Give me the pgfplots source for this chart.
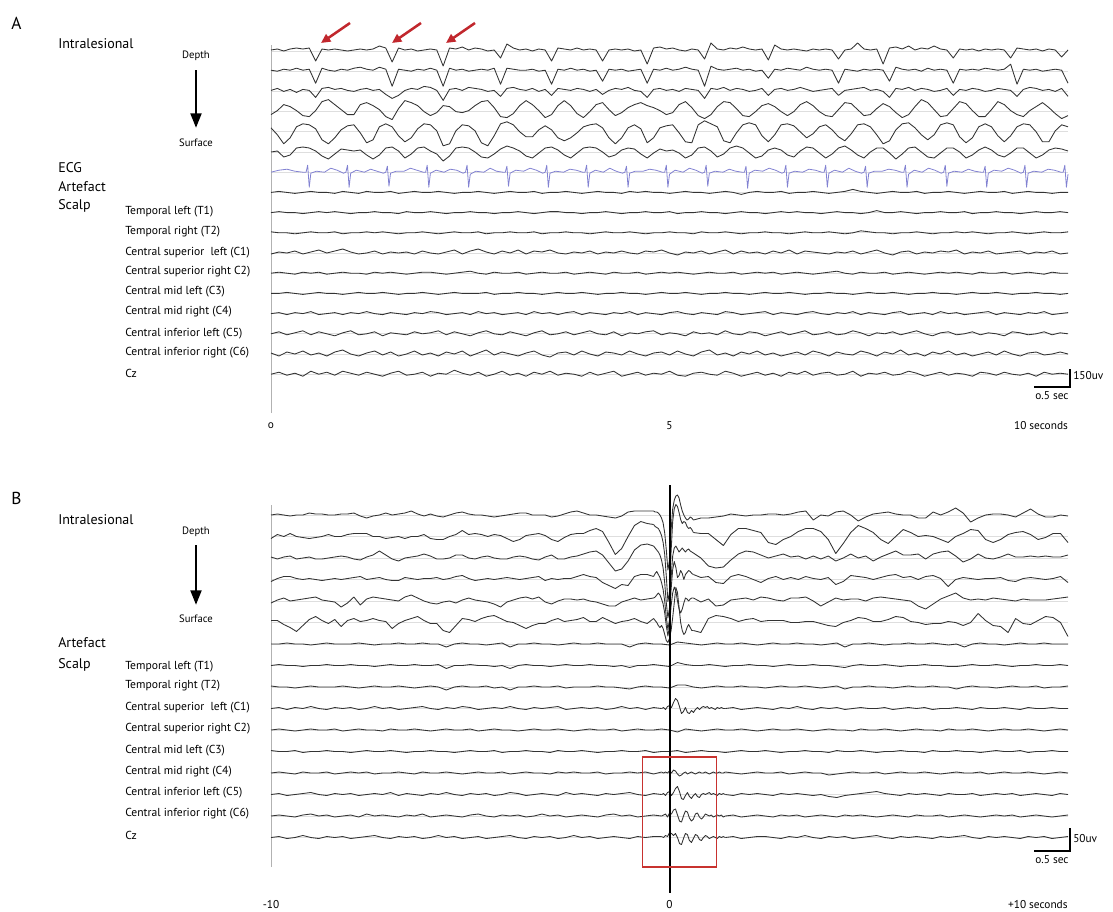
\documentclass[border=0pt]{standalone}
\usepackage{pgfplots}
\pgfplotsset{compat=1.18}
\usepackage{fontspec}
\setmainfont{PT Sans}
\usetikzlibrary{arrows.meta}
\definecolor{arrowred}{HTML}{C1272D}
\definecolor{boxred}{HTML}{C8322F}
\definecolor{ecgblue}{HTML}{8282D2}
\newcommand\fpanel{\fontsize{13}{15}\selectfont}
\newcommand\fgroup{\fontsize{10.5}{12}\selectfont}
\newcommand\fchan{\fontsize{8.7}{10}\selectfont}
\newcommand\fsmall{\fontsize{8}{9.5}\selectfont}
\newcommand\ftick{\fontsize{8.5}{10}\selectfont}

% one trace: style, first time, time step, baseline (px), values (px, up positive)
\newcommand{\eeg}[5]{%
  \gdef\eegacc{}%
  \foreach \v [count=\i from 0] in {#5}{%
    \pgfmathsetmacro\ex{#2+\i*#3}%
    \pgfmathsetmacro\ey{\v-#4}%
    \xdef\eegacc{\eegacc(\ex,\ey)}%
  }%
  \edef\eegtmp{\noexpand\addplot[#1] coordinates {\eegacc};}%
  \eegtmp
}
% trace given as time/value pairs
\newcommand{\eegxy}[3]{%
  \gdef\eegacc{}%
  \foreach \et/\v in {#3}{%
    \pgfmathsetmacro\ey{\v-#2}%
    \xdef\eegacc{\eegacc(\et,\ey)}%
  }%
  \edef\eegtmp{\noexpand\addplot[#1] coordinates {\eegacc};}%
  \eegtmp
}

\pgfplotsset{
  trace/.style={draw=black!80, line width=0.65pt, line join=round},
  ecg/.style={draw=ecgblue, line width=0.6pt, line join=round},
  eeg/.style={scale only axis, width=597.75pt, clip=false,
    axis lines*=left, x axis line style={draw=none},
    y axis line style={draw=black!30, line width=0.75pt},
    xtick=\empty, yticklabel={\relax}, ytick style={draw=none},
    ymajorgrids, grid style={draw=black!13, line width=0.75pt},
    no markers, anchor=south west},
}

\begin{document}
\begin{tikzpicture}

%%%%%%%%%%%%%%%% PANEL A %%%%%%%%%%%%%%%%
\begin{axis}[eeg, height=276pt, at={(203.25pt,-309.75pt)},
  xmin=0, xmax=10, ymin=-413, ymax=-45,
  ytick={-51,-71.2,-91.4,-111.6,-131.8,-152,-172.2,-192.4,-212.6,-232.8,-253,-273.2,-293.4,-313.6,-333.8,-354,-374.2}]

\eeg{trace}{0}{0.08}{51}{
1,2,0,2,3,2,3,-10,2,1,
2,1,0,1,2,1,2,5,3,-11,
3,1,2,0,1,2,1,-15,3,2,
4,1,3,2,0,1,-7,7,3,1,
2,0,2,1,-10,3,2,1,3,1,
2,1,-10,1,2,1,2,0,1,-13,
3,4,2,3,1,0,2,1,-8,8,
2,1,3,2,4,2,1,2,-9,6,
2,1,2,1,0,2,1,2,1,-8,
1,2,8,2,1,2,-13,3,4,2,
5,1,3,2,5,2,1,-7,2,1,
2,0,2,1,2,1,-7,3,2,1,
2,0,2,1,-6,1}

\eeg{trace}{0}{0.08}{71.2}{
1,0,2,1,3,1,2,-12,3,1,
0,2,1,3,4,2,1,4,2,-15,
2,1,0,2,1,3,1,-15,3,1,
2,0,1,2,1,3,-13,3,2,1,
1,2,0,1,-13,2,1,3,1,2,
0,1,-10,2,1,2,0,1,2,-12,
2,1,3,1,2,4,2,1,-15,5,
2,1,2,3,1,2,0,1,-7,2,
1,3,2,1,4,2,1,2,1,-12,
2,1,0,2,1,2,1,-10,4,2,
1,2,0,3,1,2,1,-12,2,1,
2,1,3,2,1,2,7,-13,2,1,
2,0,1,2,1,-12}

\eeg{trace}{0}{0.08}{91.4}{
1,3,0,2,-1,2,1,-6,3,4,
2,3,1,0,2,3,1,2,-3,-7,
-4,1,3,2,5,4,1,-9,2,3,
1,4,3,2,0,1,-5,3,4,2,
1,3,0,2,-4,3,2,1,3,2,
0,2,-3,1,3,2,4,1,0,-6,
2,3,1,2,0,3,2,1,-7,3,
2,4,1,3,2,0,1,3,-4,2,
3,1,2,4,2,0,1,2,3,-4,
1,2,3,4,1,2,0,-6,3,2,
4,1,3,2,0,1,3,-4,2,1,
3,2,0,1,3,2,1,-5,2,4,
3,1,2,0,3,-5}

\eeg{trace}{0}{0.08}{111.6}{
-3,1,7,5,1,-4,-5,1,10,12,
7,2,-3,-3,7,9,6,2,-5,-8,
3,11,9,6,0,-4,-1,6,5,0,
-1,1,6,10,11,4,-5,-6,-2,6,
11,7,1,-6,-3,6,11,6,-2,-6,
0,7,9,2,-4,-1,4,7,9,6,
4,1,-3,-1,7,10,4,-4,-7,-3,
5,10,9,3,-4,-5,0,6,8,5,
0,-4,0,7,10,6,0,-4,-5,2,
9,8,2,-4,-3,3,8,5,-1,-6,
-3,5,12,9,2,-5,-4,3,10,8,
1,-5,-5,2,10,7,1,-3,-5,1,
5,9,4,-2,-7,-4}

\eeg{trace}{0}{0.08}{131.8}{
4,-3,-12,-6,5,8,7,3,-8,-12,
-6,2,6,7,-1,-11,-8,5,8,5,
-4,-10,-6,3,8,7,1,-14,-12,1,
7,6,1,-11,-14,-4,8,10,7,0,
-5,-5,2,6,2,-6,-9,-6,-1,5,
7,8,4,-6,-12,-6,4,7,3,-11,
-6,4,6,7,-1,-10,-11,7,11,8,
5,-9,-11,-1,7,9,7,-4,-10,-3,
7,8,6,0,-6,-2,5,7,2,-5,
-9,-2,7,8,5,-3,-12,-9,2,8,
9,4,-3,-8,-3,7,9,7,-5,-11,
-6,5,8,5,-4,-10,-4,5,8,7,
0,-10,-10,1,7,5}

\eeg{trace}{0}{0.08}{152}{
0,1,-5,-3,4,5,4,1,-4,-7,
-2,3,2,1,2,-3,-7,-3,4,5,
1,-6,-2,4,5,1,-2,-9,-4,4,
5,4,0,-5,-6,-2,3,6,4,1,
-4,-6,-1,4,5,2,-3,-6,-1,4,
5,4,0,-5,-3,2,4,3,-2,-6,
-1,3,1,2,-1,-6,-3,4,5,1,
-5,-2,4,6,4,-1,-6,-4,2,4,
2,-3,-5,1,5,4,-1,-6,-2,4,
6,2,-3,-6,0,4,4,-1,-7,-2,
4,5,0,-5,-6,-1,4,4,0,-6,
-3,2,5,2,-3,-5,-1,4,4,-1,
-6,-3,2,4,3,1}

% ECG artefact
\eegxy{ecg}{172.2}{
0/0,0.1/2,0.2/3,0.3/1,0.4/0,
0.44/0,0.46/7,0.48/-15,0.5/-1,0.57/1,0.67/0,0.75/4,0.83/2,0.91/-1,
0.94/0,0.96/7,0.98/-15,1.0/-1,1.07/2,1.17/0,1.25/3,1.33/1,1.41/-1,
1.44/0,1.46/6,1.48/-14,1.5/-1,1.57/1,1.67/1,1.75/4,1.83/2,1.91/0,
1.94/0,1.96/7,1.98/-15,2.0/-1,2.07/2,2.17/0,2.25/3,2.33/2,2.41/-1,
2.44/0,2.46/7,2.48/-15,2.5/-2,2.57/1,2.67/0,2.75/4,2.83/1,2.91/0,
2.94/0,2.96/6,2.98/-14,3.0/-1,3.07/2,3.17/1,3.25/4,3.33/2,3.41/-1,
3.44/0,3.46/7,3.48/-15,3.5/-1,3.57/1,3.67/0,3.75/3,3.83/2,3.91/0,
3.94/0,3.96/7,3.98/-15,4.0/-1,4.07/2,4.17/0,4.25/4,4.33/1,4.41/-1,
4.44/0,4.46/6,4.48/-15,4.5/-1,4.57/1,4.67/1,4.75/3,4.83/2,4.91/0,
4.94/0,4.96/7,4.98/-15,5.0/-2,5.07/2,5.17/0,5.25/4,5.33/2,5.41/-1,
5.44/0,5.46/7,5.48/-14,5.5/-1,5.57/1,5.67/0,5.75/3,5.83/1,5.91/0,
5.94/0,5.96/6,5.98/-16,6.0/-1,6.07/2,6.17/1,6.25/4,6.33/2,6.41/-1,
6.44/0,6.46/7,6.48/-15,6.5/-1,6.57/1,6.67/0,6.75/3,6.83/2,6.91/0,
6.94/0,6.96/7,6.98/-15,7.0/-1,7.07/2,7.17/0,7.25/4,7.33/1,7.41/-1,
7.44/0,7.46/6,7.48/-15,7.5/-1,7.57/1,7.67/1,7.75/3,7.83/2,7.91/0,
7.94/0,7.96/7,7.98/-15,8.0/-2,8.07/2,8.17/0,8.25/4,8.33/2,8.41/-1,
8.44/0,8.46/7,8.48/-14,8.5/-1,8.57/1,8.67/0,8.75/3,8.83/1,8.91/0,
8.94/0,8.96/6,8.98/-15,9.0/-1,9.07/2,9.17/1,9.25/4,9.33/2,9.41/-1,
9.44/0,9.46/7,9.48/-15,9.5/-1,9.57/1,9.67/0,9.75/3,9.83/2,9.91/0,
9.94/0,9.96/7,9.98/-15,10/-2}

% artefact + scalp
\eeg{trace}{0}{0.1}{192.4}{
0,1,0,-1,0,1,0,0,-1,1,
0,-1,1,0,0,1,-1,0,1,0,
0,1,0,-1,0,0,1,0,-1,0,
1,0,0,1,-1,0,0,1,0,-1,
0,1,0,0,-1,1,0,1,0,0,
-1,0,1,0,0,-1,0,1,0,-2,
0,1,0,0,1,-1,0,0,1,0,
-1,0,1,3,1,0,-1,0,1,0,
0,1,-1,0,0,1,0,-1,0,1,
0,0,1,-1,0,1,0,0,-1,0,
0}
\eeg{trace}{0}{0.1}{212.6}{
0,1,0,0,-1,0,1,0,1,0,
-1,0,0,1,0,0,-1,1,0,0,
1,0,-1,0,0,1,0,0,-1,0,
0,1,0,-1,0,1,1,0,0,-1,
0,0,1,0,-1,0,0,1,0,0,
1,-1,0,0,1,0,0,-1,0,1,
0,0,-1,0,1,0,1,0,0,-1,
0,1,0,0,-1,0,2,0,0,1,
0,-1,0,0,1,0,0,1,-1,0,
0,1,0,0,-1,0,1,0,0,1,
0}
\eeg{trace}{0}{0.1}{232.8}{
1,0,0,-1,0,1,0,0,1,-1,
0,0,1,0,1,0,-1,0,0,1,
0,-1,0,1,0,0,1,-1,0,0,
1,0,0,1,-1,0,0,1,0,0,
-1,0,1,0,0,1,0,-1,0,0,
1,0,0,-1,1,0,0,1,0,-1,
0,0,1,0,0,-1,0,1,0,0,
1,0,-1,0,2,1,0,0,-1,0,
0,1,0,-1,0,0,1,0,1,0,
-1,0,0,1,0,-1,0,1,0,0,
1}
\eeg{trace}{0}{0.1}{253}{
-1,1,0,2,-1,1,3,0,2,4,
1,-1,0,2,-1,1,0,1,-1,2,
0,-1,1,3,-1,2,4,1,-1,2,
0,3,-1,2,1,3,0,-1,1,0,
2,-1,1,0,2,0,-1,2,1,3,
0,-2,1,0,2,-1,1,3,-1,2,
0,1,-1,2,0,3,-1,2,1,0,
-1,1,0,2,-1,1,3,0,-2,1,
2,-1,1,0,2,1,3,-1,1,0,
2,-1,0,1,2,-1,1,0,2,-1,
0}
\eeg{trace}{0}{0.1}{273.2}{
0,1,0,-1,1,0,1,-1,0,1,
0,0,-1,1,0,1,0,-1,0,1,
1,0,-1,0,1,2,0,-1,1,0,
0,1,-1,0,1,0,0,1,-1,0,
1,0,-1,1,0,0,1,-1,0,1,
0,1,0,-1,0,1,0,0,1,-1,
0,1,0,1,-1,0,1,0,-1,0,
1,2,0,-1,1,0,0,1,-1,0,
1,0,-1,0,1,0,1,0,-1,1,
0,0,1,-1,0,1,0,-1,1,0,
0}
\eeg{trace}{0}{0.1}{293.4}{
0,0,1,0,-1,0,1,0,0,-1,
0,1,0,0,1,0,-1,0,0,1,
0,-1,0,1,0,0,0,1,-1,0,
0,1,0,0,-1,0,1,0,0,1,
0,-1,0,0,1,0,0,-1,0,1,
0,0,1,0,-1,0,0,1,0,0,
-1,0,1,0,0,1,0,-1,0,0,
1,0,0,-1,0,1,0,0,1,0,
-1,0,0,1,0,0,-1,0,1,0,
0,1,0,-1,0,0,1,0,0,-1,
0}
\eeg{trace}{0}{0.1}{313.6}{
0,1,-1,1,0,2,-1,0,1,-1,
1,0,2,0,-1,1,0,-1,1,0,
2,1,-1,0,1,-1,2,0,1,-1,
0,1,-1,2,0,1,-1,1,2,-1,
1,0,-1,1,0,2,-1,1,0,-1,
1,2,0,-1,1,0,-1,2,1,-1,
0,1,2,-1,1,0,-1,1,2,0,
-1,1,0,2,-1,1,0,-1,1,2,
-1,0,1,-1,2,0,1,-1,0,1,
2,-1,1,0,-1,1,0,2,-1,0,
1}
\eeg{trace}{0}{0.1}{333.8}{
0,2,-1,1,3,-1,2,0,-2,1,
3,-1,0,2,-2,1,0,-1,2,0,
1,3,-1,2,0,-2,1,3,0,-1,
2,0,-2,1,3,-1,0,2,-1,1,
3,0,-1,2,-2,1,0,2,3,-1,
1,0,-2,2,0,1,-1,3,0,-1,
2,1,-2,0,2,-1,1,3,-1,0,
2,-1,0,3,1,-2,1,0,2,-1,
1,3,0,-2,1,2,-1,0,2,-1,
1,0,-2,2,1,-1,0,2,-1,1,
0}
\eeg{trace}{0}{0.1}{354}{
1,-2,2,0,3,-1,1,-2,2,4,
0,-2,1,3,-1,2,-2,0,3,-1,
1,-2,2,0,3,-2,1,4,-1,2,
0,-2,1,3,-1,-3,1,2,-1,3,
0,-2,2,1,-1,3,0,-2,1,2,
-1,3,0,-2,2,4,-1,1,-2,2,
0,3,-1,1,-2,0,2,-1,3,1,
-2,2,0,-1,3,1,-2,2,0,4,
-1,1,-2,2,0,3,-1,1,-2,0,
2,-1,3,0,-2,1,2,-1,0,2,
0}
\eeg{trace}{0}{0.1}{374.2}{
0,2,-1,1,-2,3,0,2,-1,3,
1,-1,2,0,-2,1,3,-1,0,2,
-2,1,0,4,1,-1,2,-2,0,3,
-1,1,-2,2,0,3,-1,1,0,-2,
2,-1,1,3,-2,0,2,-1,1,0,
3,-1,-2,1,2,0,-1,3,1,-2,
0,2,-1,1,-2,2,0,3,-1,1,
2,-1,0,3,-2,1,0,2,-1,0,
3,1,-2,0,2,-1,1,0,-2,2,
1,-1,2,0,-1,1,-2,2,0,1,
0}

\node[font=\ftick, inner sep=0pt] at (axis cs:0,-426) {o};
\node[font=\ftick, inner sep=0pt] at (axis cs:5,-426) {5};
\node[font=\ftick, inner sep=0pt, anchor=west] at (axis cs:9.32,-426) {10 seconds};
\end{axis}

%%%%%%%%%%%%%%%% PANEL B %%%%%%%%%%%%%%%%
\begin{axis}[eeg, height=271.5pt, at={(203.25pt,-650.25pt)},
  xmin=-10, xmax=10, ymin=-867, ymax=-505,
  ytick={-515,-536.5,-558,-579.5,-601,-622.5,-644,-665.5,-687,-708.5,-730,-751.5,-773,-794.5,-816,-837.5}]

% intralesional 1
\eeg{trace}{-10}{0.16}{515}{
0,1,0,-1,0,0,2,1,1,0,
0,1,1,2,-1,-3,-1,0,2,0,
1,2,4,1,-1,1,-1,-2,0,2,
3,1,0,0,-1,-2,-1,0,1,2,
2,0,0,0,-2,-1,1,3,4,2,
0,0,-1,-2,-3,-1,3,4,4,4,
4}
\eeg{trace}{-0.4}{0.04}{515}{4,3,3,2,0,-3,-8,-18,-35,-55,-45,-15,6,15,19,20,17,10,4,0,-3,-5,-4,-2,-3,-5}
\eeg{trace}{0.6}{0.188}{515}{
-5,-3,-3,-2,-1,1,0,-1,0,0,
1,1,0,1,3,4,-5,0,-1,3,
4,0,-6,-2,1,2,3,1,0,0,
-3,-3,3,0,3,7,2,-7,-3,0,
1,1,0,-2,2,6,1,-2,-2,0,
-1}
% intralesional 2
\eeg{trace}{-10}{0.16}{536.5}{
-2,2,0,3,0,-1,-2,-1,0,2,
0,0,2,3,3,3,0,0,-2,-1,
0,-2,0,0,2,-2,-3,-3,0,2,
6,2,3,2,0,2,1,-2,-5,-3,
1,2,3,1,-3,-5,-1,2,3,3,
6,8,5,-6,-18,-12,0,11,15,13,
12}
\eeg{trace}{-0.4}{0.04}{536.5}{12,10,9,8,5,1,-6,-18,-40,-65,-55,-15,15,28,32,30,24,17,13,15,14,10,8,9,7,4}
\eeg{trace}{0.6}{0.188}{536.5}{
4,3,3,-3,-9,2,8,8,6,4,
-6,-8,-3,0,5,8,8,5,-3,-17,
-7,4,11,8,4,-3,-7,0,7,4,
0,1,0,-3,-6,0,3,7,6,-3,
-6,-3,2,4,5,2,-3,-1,3,3,
-6}
% intralesional 3
\eeg{trace}{-10}{0.16}{558}{
1,-1,1,2,-1,0,1,-1,-1,0,
1,2,1,-1,-2,1,3,7,3,-1,
-3,0,1,2,4,2,-1,-1,0,3,
3,0,-1,1,2,0,-1,-1,1,2,
1,-1,-2,1,3,-1,-1,1,2,4,
6,7,3,-5,-13,-11,-3,8,13,14,
12}
\eeg{trace}{-0.4}{0.04}{558}{12,10,8,6,3,-2,-10,-25,-45,-60,-50,-20,2,10,12,9,6,8,10,8,6,8,9,7,6,5}
\eeg{trace}{0.6}{0.188}{558}{
5,0,-8,-10,-9,-2,4,7,6,3,
0,2,4,1,2,-1,2,-1,2,-3,
0,4,0,2,-3,1,4,7,3,3,
4,-1,4,6,7,2,-4,-1,4,0,
-1,1,4,1,1,2,1,2,1,1,
3}
% intralesional 4
\eeg{trace}{-10}{0.16}{579.5}{
-2,1,3,3,1,0,1,0,-1,0,
1,0,1,2,3,0,1,2,0,-1,
-1,2,1,0,1,1,2,0,1,3,
4,1,-1,0,1,0,1,2,1,0,
1,2,3,-1,1,0,1,1,3,5,
3,2,-3,-6,-9,-5,-6,3,5,5,
3}
\eeg{trace}{-0.4}{0.04}{579.5}{3,6,8,5,2,-3,-10,-22,-38,-50,-40,-10,10,18,12,2,4,9,6,0,5,7,9,8,6,5}
\eeg{trace}{0.6}{0.188}{579.5}{
5,2,3,-3,-4,3,5,3,0,-3,
1,3,0,2,0,3,1,0,2,-5,
-2,4,3,2,0,2,4,5,2,3,
0,3,4,1,-7,0,2,1,0,1,
1,2,-1,-2,1,2,1,0,1,3,
-3}
% intralesional 5
\eeg{trace}{-10}{0.16}{601}{
-2,1,3,0,1,2,3,4,1,0,
-1,-6,-2,4,-4,2,4,3,2,1,
0,4,6,3,0,-2,-3,-1,0,-2,
1,3,1,0,-1,-3,-6,-1,1,3,
4,2,4,-1,-3,0,2,2,1,2,
0,-1,-3,-5,-5,-1,1,3,1,2,
3}
\eeg{trace}{-0.4}{0.04}{601}{3,4,6,8,6,2,-3,-12,-25,-35,-25,-5,8,14,10,0,-8,-12,-8,-2,3,2,0,2,3,3}
\eeg{trace}{0.6}{0.188}{601}{
3,-1,2,-5,-4,1,2,3,1,4,
3,1,0,3,3,4,0,-5,-1,3,
1,2,2,0,3,4,3,2,1,0,
-5,-8,-3,2,5,8,3,1,2,1,
3,2,1,0,2,1,1,1,2,3,
4}
% intralesional 6
\eeg{trace}{-10}{0.16}{622.5}{
2,2,-2,-5,-9,-3,3,6,2,-1,
3,-4,2,4,1,2,4,2,1,-6,
-1,2,4,6,2,-1,-1,-8,-10,-3,
4,3,1,4,6,7,4,1,0,-3,
-6,-3,-1,-1,2,4,1,2,3,5,
1,1,5,2,-1,1,2,4,1,-1,
4}
\eeg{trace}{-0.4}{0.04}{622.5}{4,2,0,-3,-5,-3,-6,-12,-18,-20,-16,-8,5,20,35,30,15,0,-8,-12,-10,-5,-2,-5,-8,-8}
\eeg{trace}{0.6}{0.188}{622.5}{
-8,-10,4,7,6,4,1,3,4,1,
2,2,2,0,0,1,1,-1,-3,-4,
0,2,5,4,1,1,3,6,5,1,
0,-2,-1,-1,1,0,-3,0,9,2,
-3,-4,-10,4,-1,-2,2,6,5,0,
-14}

% artefact
\eeg{trace}{-10}{0.2}{644}{
0,0,1,0,0,-1,0,1,0,0,
0,1,0,-1,0,0,1,0,0,1,
0,0,-3,0,1,0,0,-1,0,1,
-3,0,0,1,0,0,-1,0,1,0,
0,1,0,0,0,-3,0,1,0,0,
-1,2,1,0,-1,0,1,0,0,1,
0,-1,0,1,0,0,1,0,0,-1,
0,1,-3,0,0,1,0,-1,0,0,
1,0,0,1,0,-1,0,-3,0,1,
0,0,-1,0,1,0,0,1,0,0,
0}
% T1
\eeg{trace}{-10}{0.2}{665.5}{
0,1,0,0,-1,0,0,1,0,0,
1,0,0,-1,0,1,0,0,1,0,
0,1,-3,0,0,1,0,0,-1,0,
-3,0,1,0,0,-1,0,1,0,0,
1,0,0,-1,0,-2,0,0,1,0,
-1,3,1,0,0,1,0,-1,0,0,
1,0,0,-1,0,1,0,0,1,0,
0,-1,-2,0,1,0,0,1,0,-1,
0,0,1,0,0,-1,-1,0,1,0,
0,1,0,-1,0,0,1,0,0,1,
0}
% T2
\eeg{trace}{-10}{0.2}{687}{
1,0,0,-1,0,1,0,0,0,1,
0,-1,0,1,0,0,1,0,-1,0,
1,0,-3,0,1,0,0,1,-1,0,
-3,0,0,1,0,0,1,-1,0,0,
0,1,0,0,-1,-2,0,1,0,0,
-1,2,2,0,-1,0,1,0,0,1,
0,0,-1,0,1,0,0,1,0,-1,
0,1,-2,0,0,1,0,0,-1,0,
1,0,0,1,0,0,-2,0,1,0,
0,-1,0,1,0,0,1,-1,0,0,
1}
% C1
\eeg{trace}{-10}{0.2}{708.5}{
0,1,-1,1,0,2,0,-1,1,0,
1,-1,0,2,0,1,-1,0,1,2,
0,-1,1,0,2,1,-1,0,1,0,
2,0,-1,1,0,1,2,-1,0,1,
0,1,-1,0,2,0,1,-1,1,0}
\eeg{trace}{-0.2}{0.05}{708.5}{0,1,-1,2,3,1,6,10,8,2,-5,-3,1,-4,-5,-2,-4,-1,1,-1,1,2,1,2,0,1,0,-1,1,0,1,0,0}
\eeg{trace}{1.4}{0.2}{708.5}{
0,1,-1,0,1,0,-1,1,0,2,
0,-1,1,0,1,-1,0,1,0,0,
1,-1,0,1,0,1,-1,0,0,1,
0,-1,1,0,0,1,0,-1,1,0,
0,1,0,0}
% C2
\eeg{trace}{-10}{0.2}{730}{
0,1,0,-1,0,1,0,0,1,-1,
0,1,0,0,-1,1,0,0,1,0,
-1,0,1,0,0,1,-1,0,1,0,
0,-1,0,1,0,0,1,0,-1,0,
1,0,0,1,-1,0,1,0,0,1,
0,-2,1,0,-1,0,1,0,0,1,
0,-1,0,1,0,0,1,0,-1,0,
1,0,0,-1,1,0,0,1,0,-1,
0,1,0,0,-1,1,0,0,1,0,
-1,0,1,0,0,1,0,-1,0,1,
0}
% C3
\eeg{trace}{-10}{0.2}{751.5}{
1,0,0,1,-1,0,0,1,0,0,
-1,0,1,0,0,1,0,-1,0,0,
1,0,0,-1,0,1,0,0,1,-1,
0,0,1,0,0,-1,1,0,0,1,
0,-1,0,0,1,0,0,1,-1,0,
0,1,-1,0,1,0,0,-1,0,1,
0,0,1,0,-1,0,0,1,0,0,
-1,1,0,0,1,0,-1,0,0,1,
0,0,-1,1,0,0,1,0,0,-1,
0,1,0,0,1,-1,0,0,1,0,
0}
% C4
\eeg{trace}{-10}{0.2}{773}{
0,1,0,-1,1,0,0,1,-1,0,
1,0,1,-1,0,0,1,0,-1,1,
0,0,1,0,-1,0,1,0,0,1,
-1,0,1,0,0,-1,1,0,1,0,
0,1,-1,0,0,1,0,1,-1,1}
\eeg{trace}{-0.2}{0.05}{773}{1,0,1,0,2,0,3,2,-1,-3,-2,0,1,-1,0,1,0,-1,0,1,0,0,1,0,-1,0,1,0,0,1,0,0,1}
\eeg{trace}{1.4}{0.2}{773}{
1,0,-1,0,1,0,0,1,-1,0,
1,0,0,-2,-1,0,1,0,0,1,
-1,0,1,0,0,1,0,-1,0,1,
0,0,1,-1,0,1,0,0,1,0,
-1,0,1,0}
% C5
\eeg{trace}{-10}{0.2}{794.5}{
0,1,-1,0,1,2,0,-1,1,0,
1,-1,0,1,0,2,-1,1,0,-1,
1,0,2,0,-1,1,0,1,-1,0,
2,1,-1,0,1,0,-1,2,0,1,
0,-1,1,0,1,2,0,-1,1,0}
\eeg{trace}{-0.2}{0.05}{794.5}{0,1,-1,2,3,-1,2,6,8,3,-4,-5,-1,2,-2,-4,-1,1,-2,-3,0,1,0,1,2,0,1,0,-1,1,0,1,0}
\eeg{trace}{1.4}{0.2}{794.5}{
0,-1,1,0,1,0,-1,1,0,1,
0,-1,0,-2,-3,-1,0,1,2,3,
1,0,-1,1,0,1,0,-1,1,0,
0,1,-1,0,1,0,1,-1,0,1,
0,-1,1,0}
% C6
\eeg{trace}{-10}{0.2}{816}{
0,1,0,-1,1,2,0,1,-1,0,
1,-1,2,0,1,0,-1,1,0,2,
-1,0,1,0,-1,1,2,0,-1,1,
0,1,-1,0,2,0,1,-1,0,1,
0,-1,1,2,0,1,-1,0,1,0}
\eeg{trace}{-0.2}{0.05}{816}{0,1,2,-1,3,2,6,7,1,-5,-6,0,5,4,-2,-5,-3,2,3,-1,-3,-1,2,1,0,1,-1,0,1,0,1,-1,0}
\eeg{trace}{1.4}{0.2}{816}{
0,1,-1,0,1,0,-1,1,0,1,
-1,0,1,0,-1,1,0,1,0,-1,
0,1,0,-1,1,0,0,1,-1,0,
1,0,-1,0,1,0,1,-1,0,1,
0,-1,0,1}
% Cz
\eeg{trace}{-10}{0.2}{837.5}{
0,1,-1,0,2,0,-1,1,0,1,
-1,0,1,2,0,-1,1,0,1,-1,
0,2,0,1,-1,0,1,-1,0,1,
2,0,-1,1,0,1,-1,0,2,0,
1,-1,0,1,0,-1,1,0,1,1}
\eeg{trace}{-0.2}{0.05}{837.5}{1,0,2,1,5,4,2,4,0,-6,-7,-1,4,3,-3,-5,-1,3,2,-2,-3,0,2,1,-1,0,1,0,-1,1,0,1,0}
\eeg{trace}{1.4}{0.2}{837.5}{
0,1,-1,0,1,1,0,-1,1,0,
2,0,-1,1,0,1,-1,0,1,2,
0,-1,1,0,1,0,-1,1,0,1,
2,0,-1,1,0,1,0,-1,1,0,
1,-1,0,1}

\draw[black, line width=1.5pt] (axis cs:0,-485) -- (axis cs:0,-893);
\draw[boxred, line width=1.1pt] (axis cs:-0.68,-757) rectangle (axis cs:1.18,-867);

\node[font=\ftick, inner sep=0pt] at (axis cs:-10,-905) {-10};
\node[font=\ftick, inner sep=0pt] at (axis cs:0,-905) {0};
\node[font=\ftick, inner sep=0pt, anchor=west] at (axis cs:8.49,-905) {+10 seconds};
\end{axis}

%%%%%%%%%%%%%%%% LABELS (pixel coordinates) %%%%%%%%%%%%%%%%
\begin{scope}[x=0.75pt, y=-0.75pt]
\tikzset{lbl/.style={anchor=west, inner sep=0pt}}
% panel A
\node[lbl, font=\fpanel] at (11,23) {A};
\node[lbl, font=\fgroup] at (58,44) {Intralesional};
\node[lbl, font=\fgroup] at (58,168) {ECG};
\node[lbl, font=\fgroup] at (58,187) {Artefact};
\node[lbl, font=\fgroup] at (58,206) {Scalp};
\node[font=\fsmall, inner sep=0pt] at (196,56) {Depth};
\node[font=\fsmall, inner sep=0pt] at (196,143) {Surface};
\draw[line width=2.2pt, -{Triangle[length=11pt,width=8pt]}] (196,70) -- (196,128);
\node[lbl, font=\fchan] at (125,212) {Temporal left (T1)};
\node[lbl, font=\fchan] at (125,232) {Temporal right (T2)};
\node[lbl, font=\fchan] at (125,253) {Central superior\ \ left (C1)};
\node[lbl, font=\fchan] at (125,272) {Central superior right C2)};
\node[lbl, font=\fchan] at (125,292) {Central mid left (C3)};
\node[lbl, font=\fchan] at (125,312) {Central mid right (C4)};
\node[lbl, font=\fchan] at (125,334) {Central inferior left (C5)};
\node[lbl, font=\fchan] at (125,353) {Central inferior right (C6)};
\node[lbl, font=\fchan] at (125,373) {Cz};
% red arrows
\foreach \ax in {0,71,125}{
  \draw[arrowred, line width=1.9pt, -{Triangle[length=7pt,width=6.5pt]}] (350+\ax,23) -- (321+\ax,43);
}
% scale bar A
\draw[black, line width=0.9pt] (1034,387) -- (1070,387) -- (1070,369);
\node[lbl, font=\ftick] at (1073,376) {150uv};
\node[font=\ftick, inner sep=0pt] at (1052,396) {o.5 sec};

% panel B
\node[lbl, font=\fpanel] at (11,498) {B};
\node[lbl, font=\fgroup] at (58,520) {Intralesional};
\node[lbl, font=\fgroup] at (58,643) {Artefact};
\node[lbl, font=\fgroup] at (58,665) {Scalp};
\node[font=\fsmall, inner sep=0pt] at (196,532) {Depth};
\node[font=\fsmall, inner sep=0pt] at (196,619) {Surface};
\draw[line width=2.2pt, -{Triangle[length=11pt,width=8pt]}] (196,545) -- (196,605);
\node[lbl, font=\fchan] at (125,667) {Temporal left (T1)};
\node[lbl, font=\fchan] at (125,686) {Temporal right (T2)};
\node[lbl, font=\fchan] at (125,708) {Central superior\ \ left (C1)};
\node[lbl, font=\fchan] at (125,729) {Central superior right C2)};
\node[lbl, font=\fchan] at (125,751) {Central mid left (C3)};
\node[lbl, font=\fchan] at (125,772) {Central mid right (C4)};
\node[lbl, font=\fchan] at (125,793) {Central inferior left (C5)};
\node[lbl, font=\fchan] at (125,814) {Central inferior right (C6)};
\node[lbl, font=\fchan] at (125,835) {Cz};
% scale bar B
\draw[black, line width=0.9pt] (1034,851) -- (1070,851) -- (1070,828);
\node[lbl, font=\ftick] at (1073,839) {50uv};
\node[font=\ftick, inner sep=0pt] at (1052,860) {o.5 sec};
\end{scope}

\pgfresetboundingbox
\useasboundingbox (0pt,0pt) rectangle (834.75pt,-683.25pt);
\end{tikzpicture}
\end{document}
